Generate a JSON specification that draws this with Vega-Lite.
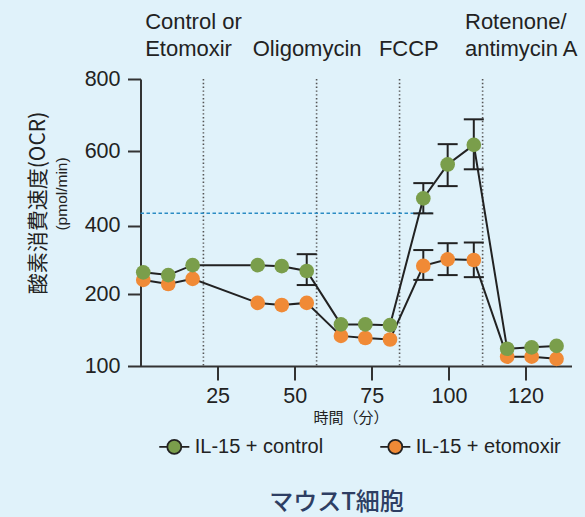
{
  "$schema": "https://vega.github.io/schema/vega-lite/v6.json",
  "autosize": {"type": "none"},
  "padding": {"left": 140.5, "top": 79, "right": 13.5, "bottom": 151},
  "width": 431,
  "height": 287,
  "background": "#e0f2fa",
  "config": {
    "view": {"stroke": null},
    "font": "Liberation Sans",
    "axis": {"grid": false, "domainColor": "#333333", "domainWidth": 2, "tickColor": "#333333", "tickWidth": 2, "labelColor": "#222222", "labelFont": "Liberation Sans", "labelFontSize": 21.5, "titleColor": "#222222", "titleFontWeight": "normal"},
    "axisX": {"tickSize": 14, "labelPadding": 5, "titleFont": "Noto Sans CJK JP", "titleFontSize": 15, "titleX": 210, "titleY": 51, "titleBaseline": "middle", "titleAlign": "center"},
    "axisY": {"tickSize": 13, "labelPadding": 7.5, "titleFont": "Noto Sans CJK JP", "titleFontSize": 21, "titleX": -102.5, "titleY": 123.5, "titleAngle": 270, "titleAlign": "center", "titleBaseline": "middle"}
  },
  "title": {"text": "マウスT細胞", "orient": "bottom", "anchor": "middle", "frame": "group", "font": "Noto Sans CJK JP", "fontSize": 24, "fontWeight": 500, "color": "#2e3e63", "offset": 33, "dx": -19.5},
  "datasets": {
    "ocr": [
      {"series": "IL-15 + etomoxir", "t": 0.9, "ocr": 242},
      {"series": "IL-15 + etomoxir", "t": 9.0, "ocr": 230},
      {"series": "IL-15 + etomoxir", "t": 16.9, "ocr": 245},
      {"series": "IL-15 + etomoxir", "t": 38.0, "ocr": 188},
      {"series": "IL-15 + etomoxir", "t": 45.8, "ocr": 185},
      {"series": "IL-15 + etomoxir", "t": 53.9, "ocr": 188},
      {"series": "IL-15 + etomoxir", "t": 65.0, "ocr": 142},
      {"series": "IL-15 + etomoxir", "t": 72.9, "ocr": 139},
      {"series": "IL-15 + etomoxir", "t": 80.9, "ocr": 137},
      {"series": "IL-15 + etomoxir", "t": 91.7, "ocr": 283, "lo": 242, "hi": 329},
      {"series": "IL-15 + etomoxir", "t": 99.6, "ocr": 302, "lo": 256, "hi": 349},
      {"series": "IL-15 + etomoxir", "t": 106.5, "ocr": 300, "lo": 250, "hi": 351},
      {"series": "IL-15 + etomoxir", "t": 115.2, "ocr": 113},
      {"series": "IL-15 + etomoxir", "t": 121.6, "ocr": 113},
      {"series": "IL-15 + etomoxir", "t": 128.1, "ocr": 110},
      {"series": "IL-15 + control", "t": 0.9, "ocr": 264},
      {"series": "IL-15 + control", "t": 9.0, "ocr": 256},
      {"series": "IL-15 + control", "t": 16.9, "ocr": 285},
      {"series": "IL-15 + control", "t": 38.0, "ocr": 285},
      {"series": "IL-15 + control", "t": 45.8, "ocr": 282},
      {"series": "IL-15 + control", "t": 53.9, "ocr": 268, "lo": 227, "hi": 317},
      {"series": "IL-15 + control", "t": 65.0, "ocr": 158},
      {"series": "IL-15 + control", "t": 72.9, "ocr": 158},
      {"series": "IL-15 + control", "t": 80.9, "ocr": 157},
      {"series": "IL-15 + control", "t": 91.7, "ocr": 473, "lo": 433, "hi": 514},
      {"series": "IL-15 + control", "t": 99.6, "ocr": 564, "lo": 506, "hi": 619},
      {"series": "IL-15 + control", "t": 106.5, "ocr": 617, "lo": 551, "hi": 688},
      {"series": "IL-15 + control", "t": 115.2, "ocr": 124},
      {"series": "IL-15 + control", "t": 121.6, "ocr": 126},
      {"series": "IL-15 + control", "t": 128.1, "ocr": 128}
    ],
    "injections": [
      {"t": 20.4, "anchor": 1.5, "label": "Control or\nEtomoxir"},
      {"t": 57.1, "anchor": 36.4, "label": "\nOligomycin"},
      {"t": 84.0, "anchor": 77.3, "label": "\nFCCP"},
      {"t": 108.8, "anchor": 104.2, "label": "Rotenone/\nantimycin A"}
    ]
  },
  "layer": [
    {
      "data": {"name": "injections"},
      "mark": {"type": "rule", "stroke": "#555555", "strokeWidth": 1.6, "strokeDash": [1.4, 2.4]},
      "encoding": {
        "x": {"field": "t", "type": "quantitative", "title": "時間（分）", "scale": {"domain": [0, 100, 132], "range": [0, 308.4, 431], "nice": false, "zero": false}, "axis": {"values": [25, 50, 75, 100, 120]}}
      }
    },
    {
      "data": {"values": [{"level": 433, "start": 0, "end": 94.5}]},
      "mark": {"type": "rule", "stroke": "#2b8cc4", "strokeWidth": 1.5, "strokeDash": [3.5, 2.5]},
      "encoding": {
        "x": {"field": "start", "type": "quantitative", "title": "時間（分）", "scale": {"domain": [0, 100, 132], "range": [0, 308.4, 431], "nice": false, "zero": false}},
        "x2": {"field": "end"},
        "y": {"field": "level", "type": "quantitative", "title": "酸素消費速度(OCR)", "scale": {"domain": [100, 200, 400, 600, 800], "range": [287, 215.3, 146.7, 72, 0], "nice": false, "zero": false}, "axis": {"values": [100, 200, 400, 600, 800]}}
      }
    },
    {
      "data": {"name": "ocr"},
      "transform": [{"filter": "isValid(datum.lo)"}],
      "mark": {"type": "rule", "stroke": "#222222", "strokeWidth": 2},
      "encoding": {
        "x": {"field": "t", "type": "quantitative", "title": "時間（分）"},
        "y": {"field": "lo", "type": "quantitative", "title": "酸素消費速度(OCR)"},
        "y2": {"field": "hi"}
      }
    },
    {
      "data": {"name": "ocr"},
      "transform": [{"filter": "isValid(datum.lo)"}],
      "mark": {"type": "tick", "orient": "horizontal", "color": "#222222", "size": 20, "thickness": 2, "opacity": 1},
      "encoding": {
        "x": {"field": "t", "type": "quantitative", "title": "時間（分）"},
        "y": {"field": "lo", "type": "quantitative", "title": "酸素消費速度(OCR)"}
      }
    },
    {
      "data": {"name": "ocr"},
      "transform": [{"filter": "isValid(datum.hi)"}],
      "mark": {"type": "tick", "orient": "horizontal", "color": "#222222", "size": 20, "thickness": 2, "opacity": 1},
      "encoding": {
        "x": {"field": "t", "type": "quantitative", "title": "時間（分）"},
        "y": {"field": "hi", "type": "quantitative", "title": "酸素消費速度(OCR)"}
      }
    },
    {
      "data": {"name": "ocr"},
      "mark": {"type": "line", "stroke": "#222222", "strokeWidth": 2},
      "encoding": {
        "x": {"field": "t", "type": "quantitative", "title": "時間（分）"},
        "y": {"field": "ocr", "type": "quantitative", "title": "酸素消費速度(OCR)"},
        "detail": {"field": "series", "type": "nominal"}
      }
    },
    {
      "data": {"name": "ocr"},
      "mark": {"type": "point", "filled": true, "size": 215, "opacity": 1, "shape": "circle"},
      "encoding": {
        "x": {"field": "t", "type": "quantitative", "title": "時間（分）"},
        "y": {"field": "ocr", "type": "quantitative", "title": "酸素消費速度(OCR)"},
        "color": {
          "field": "series", "type": "nominal",
          "scale": {"domain": ["IL-15 + control", "IL-15 + etomoxir"], "range": ["#7a9e4b", "#f08a36"]},
          "legend": {"title": null, "orient": "none", "legendX": 23.8, "legendY": 357.7, "direction": "horizontal", "symbolType": "M-2.15,0H-1M1,0H2.15M1,0A1,1,0,1,1,-1,0A1,1,0,1,1,1,0Z", "symbolSize": 196, "symbolStrokeColor": "#222222", "symbolStrokeWidth": 1.8, "symbolOpacity": 1, "labelFont": "Liberation Sans", "labelFontSize": 20, "labelColor": "#222222", "labelOffset": 10.4, "columnPadding": 53, "padding": 0}
        }
      }
    },
    {
      "data": {"name": "injections"},
      "mark": {"type": "text", "align": "left", "baseline": "bottom", "fontSize": 22, "font": "Liberation Sans", "color": "#222222", "lineBreak": "\n", "lineHeight": 27.4},
      "encoding": {
        "x": {"field": "anchor", "type": "quantitative", "title": "時間（分）"},
        "y": {"datum": 925, "type": "quantitative", "title": "酸素消費速度(OCR)"},
        "text": {"field": "label"}
      }
    },
    {
      "data": {"values": [{"unit": "(pmol/min)"}]},
      "mark": {"type": "text", "align": "center", "baseline": "middle", "angle": 270, "fontSize": 15.5, "font": "Liberation Sans", "color": "#222222"},
      "encoding": {
        "x": {"datum": -25.5, "type": "quantitative", "title": "時間（分）"},
        "y": {"datum": 485, "type": "quantitative", "title": "酸素消費速度(OCR)"},
        "text": {"field": "unit"}
      }
    }
  ]
}
